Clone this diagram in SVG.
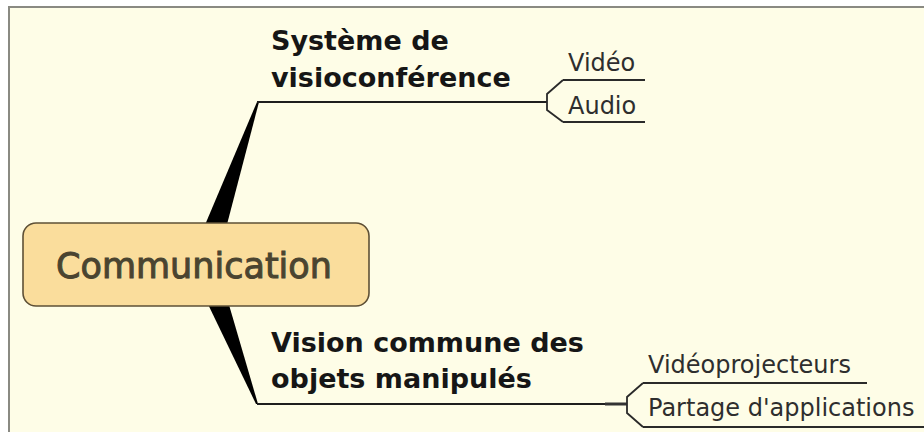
<svg xmlns="http://www.w3.org/2000/svg" width="924" height="432" viewBox="0 0 924 432">
<style>
.main{font-family:"DejaVu Sans",Verdana,sans-serif;font-weight:bold;font-size:27px;fill:#161616}
.sub{font-family:"DejaVu Sans",Verdana,sans-serif;font-size:24px;fill:#2e2e2e}
.center{font-family:"DejaVu Sans",Verdana,sans-serif;font-size:35px;fill:#4a4430;stroke:#4a4430;stroke-width:1}
.ln{fill:none;stroke:#1e1e1e;stroke-width:2}
.sl{fill:none;stroke:#2a2a2a;stroke-width:1.8}
.wedge{fill:#000}
</style>
<rect x="0" y="0" width="924" height="432" fill="#ffffff"/>
<rect x="9" y="7" width="940" height="450" fill="#FEFDE7" stroke="#8a8a82" stroke-width="2"/>
<g id="connectors">
<path class="wedge" d="M202,232 L257,102 L259,102 L225,232 Z"/>
<path class="wedge" d="M205,298 L227,298 L258,404 L256,404 Z"/>
<line class="ln" x1="257" y1="102" x2="547" y2="102"/>
<path class="sl" d="M563,80 L547,94 L547,110 L563,122"/>
<line class="ln" x1="257" y1="404" x2="627" y2="404"/>
<line x1="605" y1="404" x2="627" y2="404" stroke="#333" stroke-width="3"/>
<path class="sl" d="M643,383 L627,397 L627,413 L643,427"/>
</g>
<g id="node-communication">
<rect x="23" y="223" width="346" height="83" rx="13" ry="13" fill="#FADD9C" stroke="#5e5036" stroke-width="1.6"/>
<text class="center" x="194" y="278" text-anchor="middle">Communication</text>
</g>
<g id="node-visio">
<text class="main" x="271" y="50">Système de</text>
<text class="main" x="271" y="87">visioconférence</text>
</g>
<g id="node-video">
<text class="sub" x="568" y="71">Vidéo</text>
<line class="sl" x1="563" y1="80" x2="645" y2="80"/>
</g>
<g id="node-audio">
<text class="sub" x="568" y="114">Audio</text>
<line class="sl" x1="563" y1="122" x2="645" y2="122"/>
</g>
<g id="node-vision">
<text class="main" x="271" y="352">Vision commune des</text>
<text class="main" x="271" y="388">objets manipulés</text>
</g>
<g id="node-videoproj">
<text class="sub" x="648" y="373">Vidéoprojecteurs</text>
<line class="sl" x1="643" y1="383" x2="867" y2="383"/>
</g>
<g id="node-partage">
<text class="sub" x="648" y="416">Partage d'applications</text>
<line class="sl" x1="643" y1="427" x2="924" y2="427"/>
</g>
</svg>
